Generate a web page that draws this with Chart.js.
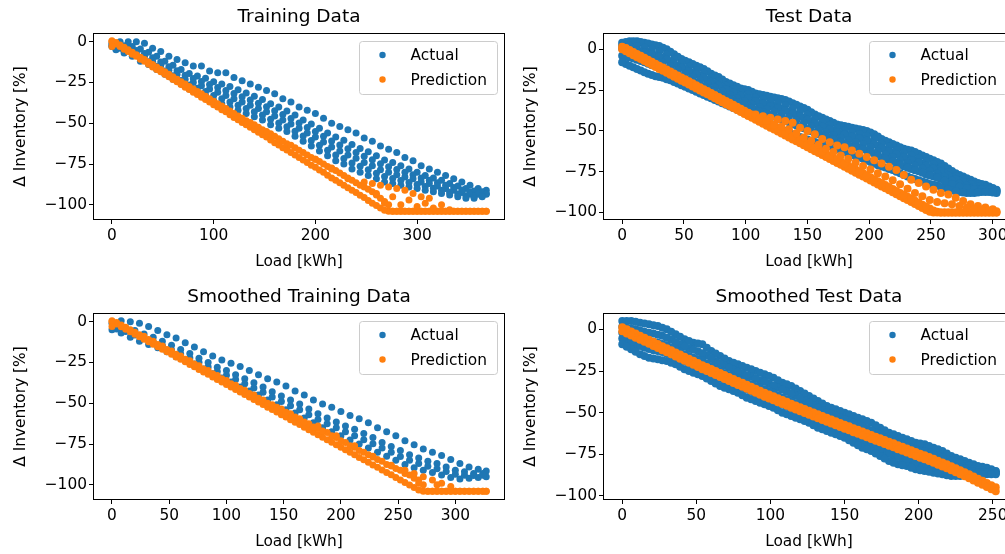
<!DOCTYPE html>
<html lang="en">
<head>
    <meta charset="UTF-8">
    <title>Training / Test Data - Actual vs Prediction</title>
    <script src="https://cdn.jsdelivr.net/npm/chart.js"></script>
    <style>
        html, body {
            margin: 0;
            padding: 0;
            width: 1005px;
            height: 554px;
            overflow: hidden;
            background: #fff;
        }
        .panel {
            position: absolute;
            width: 505px;
            height: 274px;
        }
    </style>
</head>
<body>
    <div class="panel" style="left:0;top:0"><canvas id="trainChart" width="505" height="274"></canvas></div>
    <div class="panel" style="left:510px;top:0"><canvas id="testChart" width="505" height="274"></canvas></div>
    <div class="panel" style="left:0;top:280px"><canvas id="smTrainChart" width="505" height="274"></canvas></div>
    <div class="panel" style="left:510px;top:280px"><canvas id="smTestChart" width="505" height="274"></canvas></div>

    <script>
        // ---- tick labels ----
        const yTicks = [0, -25, -50, -75, -100];
        const trainXTicks = [0, 100, 200, 300];
        const testXTicks = [0, 50, 100, 150, 200, 250, 300];
        const smTrainXTicks = [0, 50, 100, 150, 200, 250, 300];
        const smTestXTicks = [0, 50, 100, 150, 200, 250];

        // ---- Training Data ----
        const trainXa = [0,8,16,24,32,40,48,56,64,72,80,88,96,104,112,120,128,136,144,152,160,168,176,184,192,200,208,216,224,232,240,248,256,264,272,280,288,296,304,312,320,328,336,344,352,360,368];
        const trainXb = [4,12,20,28,36,44,52,60,68,76,84,92,100,108,116,124,132,140,148,156,164,172,180,188,196,204,212,220,228,236,244,252,260,268,276,284,292,300,308,316,324,332,340,348,356,364];
        const trainActual1 = [-1,0,0,0,-1,-4,-6,-9,-11,-13,-15,-15,-18,-19,-19,-22,-24,-26,-28,-30,-32,-35,-37,-40,-42,-44,-47,-50,-52,-54,-56,-59,-61,-64,-66,-68,-71,-73,-76,-78,-80,-82,-84,-86,-88,-90,-91];
        const trainActual2 = [-2,-2.5,-3,-4.5,-6.5,-9,-12,-14.5,-17,-19.5,-21,-22.5,-24.5,-26,-27.5,-29.5,-31.5,-33.5,-35.5,-38,-40,-42.5,-45,-48,-50.5,-53,-56,-58.5,-60.5,-63,-65.5,-67.5,-70,-72.5,-74,-76,-78,-80,-82,-83.5,-85,-87,-88.5,-90,-91.5,-92];
        const trainActual3 = [-3,-4,-5.5,-7,-9,-12,-14.5,-17.5,-20,-23,-25,-27,-29,-31,-33,-35,-37,-39,-41,-43,-45.5,-48,-50.5,-53,-56,-58.5,-61.5,-64.5,-67,-69.5,-71.5,-74,-76,-78.5,-80,-81.5,-83,-84,-86,-87,-88.5,-90,-91,-92.5,-93.5,-93.5,-93.5];
        const trainActual4 = [-5,-7,-9,-12,-14,-17,-20,-23,-26,-29,-31,-33,-36,-38,-40,-42,-44,-46,-48,-51,-53,-55,-58,-61,-64,-67,-70,-73,-75,-78,-80,-82,-84,-86,-87,-88,-89,-90,-91,-92,-93,-94,-95,-96,-96,-95];
        const trainActual5 = [-2.3,-3.1,-4.1,-5.4,-7.3,-9.9,-12.5,-15.4,-17.9,-20.6,-22.6,-24.4,-26.3,-28.1,-29.9,-31.8,-33.8,-35.8,-37.8,-39.9,-42.3,-44.6,-47.1,-49.8,-52.6,-55.1,-58,-60.9,-63.3,-65.6,-67.9,-70.3,-72.4,-74.9,-76.6,-78.3,-80,-81.5,-83.5,-84.9,-86.4,-88,-89.4,-90.9,-92.1,-92.6,-93];
        const trainActual6 = [-4.3,-5.9,-7.6,-10,-12.3,-15.1,-18,-20.9,-23.8,-26.5,-28.5,-30.5,-33,-35,-37,-39,-41,-43,-45,-47.6,-49.9,-52.1,-54.9,-57.8,-60.6,-63.5,-66.5,-69.4,-71.6,-74.3,-76.4,-78.5,-80.6,-82.6,-83.9,-85.1,-86.3,-87.5,-88.8,-89.9,-91.1,-92.3,-93.4,-94.5,-94.8,-94.3];
        const trainPred1 = [0,-3,-6,-9,-12,-15.5,-18.5,-21.5,-24.5,-28,-31,-34,-37,-40,-43,-46.5,-49.5,-52.5,-55.5,-58.5,-62,-65,-68,-71,-74,-77,-80,-83.5,-86.5,-89.5,-92.5,-95.5,-99,-102,-104,-104,-104,-104,-104,-104,-104,-104,-104,-104,-104,-104,-104];
        const trainPred1b = [-1.5,-4.6,-7.7,-10.8,-13.9,-17,-20,-23.2,-26.2,-29.3,-32.4,-35.5,-38.6,-41.7,-44.8,-47.9,-51,-54,-57.1,-60.2,-63.3,-66.4,-69.5,-72.6,-75.7,-78.7,-81.8,-84.9,-88,-91.1,-94.2,-97.3,-100.4,-103.4,-104,-104,-104,-104,-104,-104,-104,-104,-104,-104,-104,-104];
        const trainPred2 = [-0.5,-3.5,-6.5,-9.5,-12.5,-15.5,-18.5,-21.5,-24.5,-27.5,-30.5,-33.5,-36.5,-39.5,-42.5,-45.5,-48.5,-51,-54,-56.5,-59.5,-62.5,-65,-68,-71,-73.5,-76.5,-79,-82,-85,-88,-90.5,-94,-98,-104,-104,-104,-104,-104,-104,-104,-104,-104,-104,-104,-104];
        const trainPred2b = [0.5,-2,-5,-8,-11,-14,-17,-20,-23,-26,-29,-32,-35,-38,-41,-44,-47,-49.5,-52.5,-55,-58,-61,-63.5,-66.5,-69.5,-72,-75,-77.5,-80.5,-83.5,-86.5,-89,-92,-96,-100,-104,-104,-104,-104,-104,-104,-104,-104,-104,-104,-104,-104];
        const trainPredExtraX = [0,200,216,232,248,256,264,272,280,288,296,304,312,260,276,292,308,324,268,284,300,316,332];
        const trainPredExtraY = [-3,-72,-78,-84,-86,-87,-88,-89,-90,-91,-93,-95,-96,-93,-95,-97,-99,-100,-99,-100,-101,-102,-103];

        // ---- Test Data ----
        const testXa = [0,6,12,18,24,30,36,42,48,54,60,66,72,78,84,90,96,102,108,114,120,126,132,138,144,150,156,162,168,174,180,186,192,198,204,210,216,222,228,234,240,246,252,258,264,270,276,282,288,294,300];
        const testXb = [3,9,15,21,27,33,39,45,51,57,63,69,75,81,87,93,99,105,111,117,123,129,135,141,147,153,159,165,171,177,183,189,195,201,207,213,219,225,231,237,243,249,255,261,267,273,279,285,291,297,303];
        const testActual1 = [4,5,5,4,3,2,0,-3,-6,-8,-10,-12,-15,-17,-20,-22,-24,-25,-27,-28,-29,-30,-31,-33,-35,-37,-40,-42,-44,-46,-47,-48,-49,-50,-52,-55,-57,-59,-61,-62,-64,-66,-68,-70,-73,-76,-78,-80,-82,-83,-85];
        const testActual1b = [4.5,5,4.5,3.5,2.5,1,-1.5,-4.5,-7,-9,-11,-13.5,-16,-18.5,-21,-23,-24.5,-26,-27.5,-28.5,-29.5,-30.5,-32,-34,-36,-38.5,-41,-43,-45,-46.5,-47.5,-48.5,-49.5,-51,-53.5,-56,-58,-60,-61.5,-63,-65,-67,-69,-71.5,-74.5,-77,-79,-81,-82.5,-84,-86];
        const testActual2 = [0,-0.3,-1.3,-2.6,-3.8,-5.1,-7.3,-10,-12.3,-14.3,-16.3,-18.7,-21,-23.3,-25.6,-27.6,-29.3,-31,-32.7,-34,-35.3,-36.6,-38.3,-40.3,-42.1,-44.3,-46.5,-48.2,-50,-51.7,-53,-54.1,-55.3,-56.9,-59.3,-61.5,-63.3,-65.3,-67,-68.5,-70.3,-72.2,-73.8,-76,-78.5,-80.5,-82,-83.3,-84.2,-85.2,-86.4];
        const testActual2b = [0.5,-0.2,-0.8,-2,-3.2,-4.5,-6.2,-8.7,-11.2,-13.3,-15.3,-17.5,-19.9,-22.2,-24.5,-26.6,-28.5,-30.2,-31.9,-33.4,-34.7,-36,-37.5,-39.3,-41.2,-43.2,-45.4,-47.4,-49.1,-50.9,-52.4,-53.6,-54.7,-56.1,-58.1,-60.4,-62.4,-64.3,-66.2,-67.8,-69.4,-71.3,-73,-74.9,-77.3,-79.5,-81.3,-82.7,-83.8,-84.7,-85.8];
        const testActual3 = [-4,-5,-6.4,-8,-9.7,-10.7,-12,-14.4,-16.7,-18.7,-20.7,-22.7,-25,-27,-29.4,-31.4,-33.4,-35,-37,-38.7,-40.4,-42,-43.7,-45.7,-47.7,-49,-51.4,-52.7,-54,-56,-57.7,-59.4,-60.4,-62,-64,-66.4,-67.7,-69.7,-71.7,-73.4,-74.7,-76.7,-78,-79.4,-81.7,-83.4,-84.7,-85.4,-86,-85.7,-87];
        const testActual3b = [-4.5,-5.7,-7.2,-8.9,-10.2,-11.4,-13.2,-15.6,-17.7,-19.7,-21.7,-23.9,-26,-28.2,-30.4,-32.4,-34.2,-36,-37.9,-39.6,-41.2,-42.9,-44.7,-46.7,-48.4,-50.2,-52.1,-53.4,-55,-56.9,-58.6,-59.9,-61.2,-63,-65.2,-67.1,-68.7,-70.7,-72.6,-74.1,-75.7,-77.4,-78.7,-80.6,-82.6,-84.1,-85.1,-85.7,-85.9,-86.4,-87.5];
        const testActual4 = [-9,-11,-13,-15,-16.5,-17.5,-19,-21,-23,-25,-27,-29,-31,-33,-35,-37,-39,-41,-43,-45,-47,-49,-51,-53,-54.5,-56,-57.5,-58.5,-60,-62,-64,-65.5,-67,-69,-71,-72.5,-74,-76,-78,-79.5,-81,-82.5,-83.5,-85,-86.5,-87.5,-88,-88,-87.5,-87.5,-88];
        const testActual4b = [-8,-10,-12,-14,-15.8,-17,-18.3,-20,-22,-24,-26,-28,-30,-32,-34,-36,-38,-40,-42,-44,-46,-48,-50,-52,-53.8,-55.3,-56.8,-58,-59.3,-61,-63,-64.8,-66.3,-68,-70,-71.8,-73.3,-75,-77,-78.8,-80.3,-81.8,-83,-84.3,-85.8,-87,-87.8,-88,-87.8,-87.5,-87.8];
        const testActual5 = [2.3,2.4,2.1,1,-0.1,-1.3,-3.1,-5.9,-8.6,-10.7,-12.7,-14.8,-17.5,-19.6,-22.3,-24.3,-26.3,-27.6,-29.5,-30.7,-31.9,-33,-34.3,-36.2,-38.1,-40.1,-42.7,-44.7,-46.6,-48.5,-49.7,-50.8,-51.9,-53.1,-55.1,-57.7,-59.7,-61.7,-63.6,-64.9,-66.7,-68.7,-70.5,-72.5,-75.2,-77.8,-79.7,-81.4,-82.9,-83.9,-85.4];
        const testActual6 = [-2.3,-3,-4.3,-5.8,-7,-8.3,-10.3,-12.8,-15,-17,-19,-21.3,-23.5,-25.8,-28,-30,-31.8,-33.5,-35.3,-36.8,-38.3,-39.8,-41.5,-43.5,-45.3,-47.3,-49.3,-50.8,-52.5,-54.3,-55.8,-57,-58.3,-60,-62.3,-64.3,-66,-68,-69.8,-71.3,-73,-74.8,-76.3,-78.3,-80.6,-82.3,-83.6,-84.5,-85.1,-85.8,-87];
        const testPred1 = [0,-2.4,-4.8,-7.2,-9.6,-12,-14.4,-16.8,-19.2,-21.6,-24,-26.4,-28.8,-31.2,-33.6,-36,-38.4,-40.8,-43.2,-45.6,-48,-50.4,-52.8,-55.2,-57.6,-60,-62.4,-64.8,-67.2,-69.6,-72,-74.4,-76.8,-79.2,-81.6,-84,-86.4,-88.8,-91.2,-93.6,-96,-98.4,-100,-100,-100,-100,-100,-100,-100,-100,-100];
        const testPred1b = [-1.2,-3.6,-6,-8.4,-10.8,-13.2,-15.6,-18,-20.4,-22.8,-25.2,-27.6,-30,-32.4,-34.8,-37.2,-39.6,-42,-44.4,-46.8,-49.2,-51.6,-54,-56.4,-58.8,-61.2,-63.6,-66,-68.4,-70.8,-73.2,-75.6,-78,-80.4,-82.8,-85.2,-87.6,-90,-92.4,-94.8,-97.2,-99.6,-100,-100,-100,-100,-100,-100,-100,-100,-100];
        const testPred2 = [0.8,-1.6,-4,-6.4,-8.8,-11.2,-13.6,-16,-18.4,-20.8,-23.2,-25.6,-28,-30.4,-32.8,-35.2,-37.6,-40,-42.4,-44.8,-47.2,-49.6,-52,-54.4,-56.8,-59.2,-61.6,-64,-66.4,-68.8,-71.2,-73.6,-76,-78.4,-80.8,-83.2,-85.6,-88,-90.4,-92.8,-95.2,-97.6,-99.5,-100,-100,-100,-100,-100,-100,-100,-100];
        const testPred2b = [1.5,-0.4,-2.8,-5.2,-7.6,-10,-12.4,-14.8,-17.2,-19.6,-22,-24.4,-26.8,-29.2,-31.6,-34,-36.4,-38.8,-41.2,-43.6,-46,-48.4,-50.8,-53.2,-55.6,-58,-60.4,-62.8,-65.2,-67.6,-70,-72.4,-74.8,-77.2,-79.6,-82,-84.4,-86.8,-89.2,-91.6,-94,-96.4,-98.8,-100,-100,-100,-100,-100,-100,-100,-100];
        const testPredTopX = [96,102,108,114,120,126,132,138,144,150,156,162,168,174,180,186,192,198,204,210,216,222,228,234,240,246,252,258,264,270,276,282,288,294,300];
        const testPredTop = [-38,-39,-40,-41,-42,-43,-44,-45,-48,-50,-52,-55,-57,-59,-60,-62,-64,-66,-68,-70,-72,-74,-77,-80,-82,-84,-86,-88,-89,-91,-93,-95,-96,-97,-98];
        const testPredMidX = [111,117,123,129,135,141,147,153,159,165,171,177,183,189,195,201,207,213,219,225,231,237,243,249,255,261,267,273,279,285,291,297,303];
        const testPredMid = [-42.5,-44,-46,-47.5,-49,-51.5,-54,-56,-58.5,-61,-63,-65,-67,-69.3,-71.5,-73.7,-76,-78,-80.3,-82.7,-85.5,-88,-90,-92.3,-93.5,-94.3,-95,-96,-97,-97.8,-98.3,-98.8,-99.3];

        // ---- Smoothed Training Data ----
        const smTrainXa = [0,8,16,24,32,40,48,56,64,72,80,88,96,104,112,120,128,136,144,152,160,168,176,184,192,200,208,216,224,232,240,248,256,264,272,280,288,296,304,312,320,327];
        const smTrainXb = [4,12,20,28,36,44,52,60,68,76,84,92,100,108,116,124,132,140,148,156,164,172,180,188,196,204,212,220,228,236,244,252,260,268,276,284,292,300,308,316,324];
        const smTrainActual1 = [-1,0.5,0,-1,-3,-5.5,-8,-10,-13,-15.5,-18.5,-21,-23.5,-25.5,-27.5,-30,-32.5,-35,-37,-39.5,-42.5,-45,-48,-50.5,-52.5,-55,-57.5,-59.5,-62,-65,-67.5,-70,-73,-75.5,-78,-80,-82,-84.5,-87,-89,-90.5,-91.5];
        const smTrainActual2 = [-3,-4,-5.5,-7.5,-9.5,-12,-14.5,-17,-19.5,-22.5,-25,-28,-30,-32.5,-35,-37.5,-40,-43,-45.5,-48,-50.5,-53.5,-56.5,-59,-61.5,-64,-66,-68.5,-71,-74,-76.5,-79,-81.5,-83.5,-85.5,-87,-89,-91,-92,-93,-93];
        const smTrainActual3 = [-5,-7,-9.5,-12,-14,-16,-18.5,-21.5,-24,-26,-29,-32,-34.5,-37,-40,-42.5,-45,-48,-51,-54,-56,-59,-62,-65,-67.5,-70,-72.5,-75,-77.5,-80,-82.5,-85,-87.5,-89.5,-91,-92.5,-94,-95.5,-96.5,-96,-95.5,-95];
        const smTrainActual4 = [-4.5,-6.1,-8.2,-10.3,-12.3,-14.6,-17.3,-19.9,-22.3,-24.9,-27.8,-30.5,-32.9,-35.5,-38.1,-40.6,-43.3,-46.2,-49,-51.5,-54,-57,-60,-62.6,-65,-67.5,-69.9,-72.4,-74.9,-77.5,-80,-82.6,-85,-86.9,-88.6,-90.2,-91.9,-93.5,-94.2,-94.3,-94.2];
        const smTrainPred1 = [0,-3.1,-6.2,-9.2,-12.3,-15.4,-18.5,-21.6,-24.6,-27.7,-30.8,-33.9,-37,-40,-43.1,-46.2,-49.3,-52.4,-55.4,-58.5,-61.6,-64.7,-67.8,-70.8,-73.9,-77,-80.1,-83.2,-86.2,-89.3,-92.4,-95.5,-98.6,-101.6,-104,-104,-104,-104,-104,-104,-104,-104];
        const smTrainPred1b = [-1.5,-4.6,-7.7,-10.8,-13.9,-16.9,-20,-23.1,-26.2,-29.3,-32.3,-35.4,-38.5,-41.6,-44.7,-47.7,-50.8,-53.9,-57,-60.1,-63.1,-66.2,-69.3,-72.4,-75.5,-78.5,-81.6,-84.7,-87.8,-90.9,-93.9,-97,-100.1,-103.2,-104,-104,-104,-104,-104,-104,-104];
        const smTrainPred2 = [-0.5,-3.5,-6.5,-9,-12,-15,-18,-21,-24,-27,-30,-33,-36,-39,-42,-45,-48,-51,-53.5,-56.5,-59.5,-62.5,-65.5,-68,-71,-74,-77,-80,-82.5,-85.5,-88.5,-91,-94,-97,-104,-104,-104,-104,-104,-104,-104];
        const smTrainPred2b = [0.5,-2,-5,-8,-11,-14,-17,-20,-23,-26,-29,-32,-35,-38,-41,-44,-47,-50,-52.5,-55.5,-58.5,-61.5,-64.5,-67,-70,-73,-76,-79,-81.5,-84.5,-87.5,-90,-93,-96,-100,-104,-104,-104,-104,-104,-104,-104];
        const smTrainPredExtraX = [0,180,196,212,228,244,256,264,272,280,288,268,284,296];
        const smTrainPredExtraY = [-3,-64,-70,-76,-83,-88,-91,-93,-95,-97,-99,-99,-100,-101];

        // ---- Smoothed Test Data ----
        const smTestXa = [0,6,12,18,24,30,36,42,48,54,60,66,72,78,84,90,96,102,108,114,120,126,132,138,144,150,156,162,168,174,180,186,192,198,204,210,216,222,228,234,240,246,252];
        const smTestXb = [3,9,15,21,27,33,39,45,51,57,63,69,75,81,87,93,99,105,111,117,123,129,135,141,147,153,159,165,171,177,183,189,195,201,207,213,219,225,231,237,243,249];
        const smTestActual1 = [5,5,4,3,2,0,-3,-6,-8,-9,-13,-16,-19,-21,-23,-25,-27,-29,-32,-34,-37,-40,-43,-46,-48,-50,-52,-54,-56,-59,-62,-64,-66,-68,-69,-71,-73,-76,-78,-80,-82,-83,-85];
        const smTestActual1b = [5,4.5,3.5,2.5,1,-1.5,-4.5,-7,-8.5,-11,-14.5,-17.5,-20,-22,-24,-26,-28,-30.5,-33,-35.5,-38.5,-41.5,-44.5,-47,-49,-51,-53,-55,-57.5,-60.5,-63,-65,-67,-68.5,-70,-72,-74.5,-77,-79,-81,-82.5,-84];
        const smTestActual2 = [1,0,-1.4,-2.5,-3.9,-6.1,-9,-11.5,-13.1,-15.6,-19,-21.9,-24.3,-26.4,-28.5,-30.5,-32.5,-35,-37.5,-39.9,-42.6,-45.5,-48.4,-50.8,-52.8,-54.9,-57.1,-59.3,-61.8,-64.8,-67.3,-69.1,-71,-72.5,-73.9,-75.6,-77.8,-79.8,-81.1,-82.5,-83.6,-84.8];
        const smTestActual2b = [1.5,0.5,-0.7,-2,-3.2,-5,-7.6,-10.3,-12.3,-14.4,-17.3,-20.5,-23.1,-25.4,-27.5,-29.5,-31.5,-33.8,-36.3,-38.7,-41.3,-44.1,-47,-49.6,-51.8,-53.9,-56,-58.2,-60.6,-63.3,-66.1,-68.2,-70.1,-71.8,-73.2,-74.8,-76.7,-78.8,-80.5,-81.8,-83.1,-84.2,-85.3];
        const smTestActual3 = [-2,-3.5,-5.5,-7,-8,-9.5,-12,-15,-17,-18.5,-22,-25,-27.5,-29.5,-32,-34,-36,-38,-41,-43,-45.5,-48,-51,-53.5,-55.5,-57.5,-60,-62.5,-64.5,-67.5,-70.5,-72.5,-74,-76,-77,-78.5,-80,-82,-83,-83.5,-84.5,-85,-86];
        const smTestActual3b = [-2.8,-4.5,-6.3,-7.5,-8.8,-10.8,-13.5,-16,-17.8,-20.3,-23.5,-26.3,-28.5,-30.8,-33,-35,-37,-39.5,-42,-44.3,-46.8,-49.5,-52.3,-54.5,-56.5,-58.8,-61.3,-63.5,-66,-69,-71.5,-73.3,-75,-76.5,-77.8,-79.3,-81,-82.5,-83.3,-84,-84.8,-85.5];
        const smTestActual4 = [-6.6,-9,-11.1,-12.5,-13.6,-15.4,-18,-20.5,-22.4,-24.9,-28,-30.6,-32.8,-35.1,-37.5,-39.5,-41.5,-44,-46.5,-48.6,-50.9,-53.5,-56.1,-58.3,-60.3,-62.6,-65.4,-67.8,-70.3,-73.3,-75.8,-77.4,-79,-80.5,-81.6,-82.9,-84.3,-85.3,-85.4,-85.5,-85.9,-86.3];
        const smTestActual4b = [-5.5,-7.8,-10,-11.8,-13,-14.5,-16.7,-19.3,-21.5,-23.7,-26.5,-29.3,-31.7,-34,-36.3,-38.5,-40.5,-42.8,-45.3,-47.6,-49.8,-52.2,-54.8,-57.2,-59.3,-61.5,-64,-66.6,-69,-71.8,-74.6,-76.6,-78.2,-79.8,-81,-82.3,-83.6,-84.8,-85.4,-85.5,-85.7,-86.1,-86.5];
        const smTestActual5 = [-9,-12,-15,-17,-18,-19,-21,-24,-26,-28,-31,-34,-36,-38,-41,-43,-45,-47,-50,-52,-54,-56,-59,-61,-63,-65,-68,-71,-73,-76,-79,-81,-82,-84,-85,-86,-87,-88,-88,-87,-87,-87,-87];
        const smTestActual5b = [-10.5,-13.5,-16,-17.5,-18.5,-20,-22.5,-25,-27,-29.5,-32.5,-35,-37,-39.5,-42,-44,-46,-48.5,-51,-53,-55,-57.5,-60,-62,-64,-66.5,-69.5,-72,-74.5,-77.5,-80,-81.5,-83,-84.5,-85.5,-86.5,-87.5,-88,-87.5,-87,-87,-87];
        const smTestPred1 = [1.2,-1.3,-3.8,-6.3,-8.8,-11.4,-13.9,-16.4,-18.9,-21.5,-23.8,-26.2,-28.6,-31,-33.3,-35.7,-38,-40.2,-42.4,-44.6,-46.8,-48.9,-51,-53.1,-55.2,-57.2,-59.3,-61.3,-63.4,-65.4,-67.4,-69.5,-71.5,-73.6,-75.6,-77.7,-79.9,-82.2,-84.6,-87,-89.6,-92.2,-94.8];
        const smTestPred1b = [0,-2.5,-5,-7.5,-10.1,-12.6,-15.1,-17.6,-20.2,-22.6,-25,-27.4,-29.8,-32.1,-34.5,-36.8,-39.1,-41.3,-43.5,-45.7,-47.8,-49.9,-52,-54.1,-56.2,-58.2,-60.3,-62.3,-64.4,-66.4,-68.4,-70.5,-72.5,-74.6,-76.6,-78.8,-81,-83.4,-85.8,-88.3,-90.9,-93.5];
        const smTestPred2 = [-2.5,-5,-7.5,-10,-12.5,-15,-17.6,-20,-22.6,-25,-27.4,-29.8,-32.2,-34.5,-36.9,-39.2,-41.5,-43.7,-45.9,-48.1,-50.2,-52.3,-54.4,-56.5,-58.6,-60.6,-62.7,-64.7,-66.8,-68.8,-70.8,-72.9,-74.9,-77,-79,-81.2,-83.4,-85.8,-88.2,-90.7,-93.3,-95.9];
        const smTestPred2b = [-1.2,-3.7,-6.2,-8.7,-11.2,-13.8,-16.3,-18.8,-21.3,-23.9,-26.2,-28.6,-31,-33.4,-35.7,-38.1,-40.4,-42.6,-44.8,-47,-49.2,-51.3,-53.4,-55.5,-57.6,-59.6,-61.7,-63.7,-65.8,-67.8,-69.8,-71.9,-73.9,-76,-78,-80.1,-82.3,-84.6,-87,-89.4,-92,-94.6,-97.2];

        const BLUE = '#1f77b4';
        const ORANGE = '#ff7f0e';
        Chart.defaults.font.family = "'DejaVu Sans', sans-serif";
        Chart.defaults.color = '#000';

        // zip an x list and a y list into scatter points
        function pts(xs, ys) {
            return ys.map((y, i) => ({ x: xs[i], y: y }));
        }

        // full box around the plot area (matplotlib spines)
        const frame = {
            id: 'frame',
            afterDraw(chart) {
                const a = chart.chartArea, ctx = chart.ctx;
                ctx.save();
                ctx.strokeStyle = '#000';
                ctx.lineWidth = 1;
                ctx.strokeRect(Math.round(a.left) + 0.5, Math.round(a.top) + 0.5,
                    Math.round(a.right - a.left) - 1, Math.round(a.bottom - a.top) - 1);
                ctx.restore();
            }
        };

        // legend box in the upper right corner of the axes
        const cornerLegend = {
            id: 'cornerLegend',
            afterDatasetsDraw(chart) {
                const a = chart.chartArea, ctx = chart.ctx;
                const w = 138, h = 53;
                const x = Math.round(a.right - 8 - w) + 0.5, y = Math.round(a.top + 8) + 0.5;
                ctx.save();
                ctx.beginPath();
                ctx.roundRect(x, y, w, h, 3);
                ctx.fillStyle = 'rgba(255,255,255,0.8)';
                ctx.fill();
                ctx.strokeStyle = '#cccccc';
                ctx.lineWidth = 1;
                ctx.stroke();
                ctx.font = "15.4px 'DejaVu Sans'";
                ctx.textBaseline = 'middle';
                const rowY = [13.5, 38];
                chart.data.datasets.forEach((ds, i) => {
                    ctx.beginPath();
                    ctx.arc(x + 23, y + rowY[i], 3.2, 0, Math.PI * 2);
                    ctx.fillStyle = ds.backgroundColor;
                    ctx.fill();
                    ctx.fillStyle = '#000';
                    ctx.fillText(ds.label, x + 51, y + rowY[i] + 1);
                });
                ctx.restore();
            }
        };

        function makePanel(id, title, actual, pred, xMin, xMax, yMin, yMax, xTicks, radius) {
            const ctx = document.getElementById(id).getContext('2d');
            return new Chart(ctx, {
                type: 'scatter',
                data: {
                    datasets: [
                        { label: 'Actual', data: actual, backgroundColor: BLUE, borderWidth: 0, pointRadius: radius, order: 1 },
                        { label: 'Prediction', data: pred, backgroundColor: ORANGE, borderWidth: 0, pointRadius: radius, order: 0 }
                    ]
                },
                options: {
                    responsive: false,
                    animation: false,
                    events: [],
                    layout: { padding: 0, autoPadding: false },
                    plugins: {
                        legend: { display: false },
                        tooltip: { enabled: false },
                        title: {
                            display: true,
                            text: title,
                            fullSize: false,
                            color: '#000',
                            font: { size: 18.5, weight: 'normal' },
                            padding: { top: 6, bottom: 4.8 }
                        }
                    },
                    scales: {
                        x: {
                            type: 'linear',
                            min: xMin,
                            max: xMax,
                            afterBuildTicks: ax => { ax.ticks = xTicks.map(v => ({ value: v })); },
                            afterFit: ax => { ax.height = 54; },
                            grid: { drawOnChartArea: false, drawTicks: true, tickLength: 4, color: '#000' },
                            border: { display: false },
                            ticks: { color: '#000', font: { size: 15.4 }, padding: 3, maxRotation: 0,
                                callback: v => String(v).replace('-', '\u2212') },
                            title: { display: true, text: 'Load [kWh]', color: '#000', font: { size: 15.4 }, padding: { top: 0, bottom: 3 } }
                        },
                        y: {
                            type: 'linear',
                            min: yMin,
                            max: yMax,
                            afterBuildTicks: ax => { ax.ticks = yTicks.map(v => ({ value: v })); },
                            afterFit: ax => { ax.width = 93; },
                            grid: { drawOnChartArea: false, drawTicks: true, tickLength: 4, color: '#000' },
                            border: { display: false },
                            ticks: { color: '#000', font: { size: 15.4 }, padding: 2,
                                callback: v => String(v).replace('-', '\u2212') },
                            title: { display: true, text: '\u0394 Inventory [%]', color: '#000', font: { size: 15.4 }, padding: { top: 12, bottom: 0 } }
                        }
                    }
                },
                plugins: [frame, cornerLegend]
            });
        }

        makePanel('trainChart', 'Training Data',
            [].concat(pts(trainXa, trainActual1), pts(trainXb, trainActual2), pts(trainXa, trainActual5), pts(trainXa, trainActual3),
                pts(trainXb, trainActual6), pts(trainXb, trainActual4)),
            [].concat(pts(trainXa, trainPred1), pts(trainXb, trainPred1b), pts(trainXb, trainPred2), pts(trainXa, trainPred2b),
                pts(trainPredExtraX, trainPredExtraY)),
            -18.6, 386.4, -109.3, 5.3, trainXTicks, 3.5);

        makePanel('testChart', 'Test Data',
            [].concat(pts(testXa, testActual1), pts(testXb, testActual1b), pts(testXa, testActual5), pts(testXb, testActual2),
                pts(testXa, testActual2b), pts(testXb, testActual6), pts(testXa, testActual3), pts(testXb, testActual3b),
                pts(testXb, testActual4), pts(testXa, testActual4b)),
            [].concat(pts(testXa, testPred1), pts(testXb, testPred1b), pts(testXb, testPred2), pts(testXa, testPred2b),
                pts(testPredTopX, testPredTop), pts(testPredMidX, testPredMid)),
            -15.5, 318, -104.6, 10, testXTicks, 4.0);

        makePanel('smTrainChart', 'Smoothed Training Data',
            [].concat(pts(smTrainXa, smTrainActual1), pts(smTrainXb, smTrainActual2), pts(smTrainXa, smTrainActual3), pts(smTrainXb, smTrainActual4)),
            [].concat(pts(smTrainXa, smTrainPred1), pts(smTrainXb, smTrainPred1b), pts(smTrainXb, smTrainPred2), pts(smTrainXa, smTrainPred2b),
                pts(smTrainPredExtraX, smTrainPredExtraY)),
            -16.6, 343.4, -109.3, 5.3, smTrainXTicks, 3.5);

        makePanel('smTestChart', 'Smoothed Test Data',
            [].concat(pts(smTestXa, smTestActual1), pts(smTestXb, smTestActual1b), pts(smTestXb, smTestActual2), pts(smTestXa, smTestActual2b),
                pts(smTestXa, smTestActual3), pts(smTestXb, smTestActual3b), pts(smTestXb, smTestActual4), pts(smTestXa, smTestActual4b),
                pts(smTestXa, smTestActual5), pts(smTestXb, smTestActual5b)),
            [].concat(pts(smTestXa, smTestPred1), pts(smTestXb, smTestPred1b), pts(smTestXb, smTestPred2), pts(smTestXa, smTestPred2b)),
            -13, 265, -102.4, 9.8, smTestXTicks, 4.0);
    </script>
</body>
</html>
